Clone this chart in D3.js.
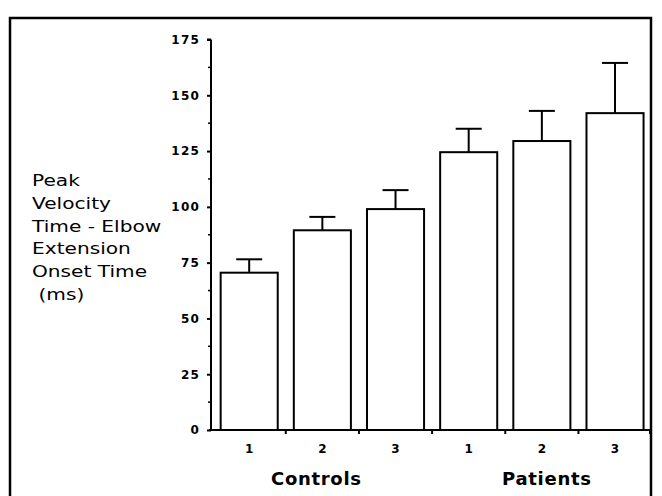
<!DOCTYPE html>
<html>
<head>
<meta charset="utf-8">
<script src="https://cdn.jsdelivr.net/npm/d3@7"></script>
<style>
  body { margin: 0; background: #fff; }
  svg { display: block; }
  text { font-family: "DejaVu Sans", sans-serif; fill: #000; }
</style>
</head>
<body>
<svg width="662" height="496"></svg>
<script>
let width = 662, height = 496;

// data
const groups = ["Controls", "Patients"];
const categories = ["C1", "C2", "C3", "P1", "P2", "P3"];
const catLabels = ["1", "2", "3", "1", "2", "3"];
const means = [70.5, 89.5, 99, 124.5, 129.5, 142];
const errTops = [76.5, 95.5, 107.5, 135, 143, 164.5];
const yTicks = [0, 25, 50, 75, 100, 125, 150, 175];
const yMinor = [12.5, 37.5, 62.5, 87.5, 112.5, 137.5, 162.5];
const titleLines = ["Peak", "Velocity", "Time - Elbow", "Extension", "Onset Time", " (ms)"];

let svg = d3.select("svg");

// frame round the figure
svg.append("rect")
    .attr("x", 10).attr("y", 18)
    .attr("width", 641).attr("height", 520)
    .attr("fill", "none")
    .attr("stroke", "#000")
    .attr("stroke-width", 2.5);

let x = d3.scaleBand()
    .domain(categories)
    .range([211, 650])
    .paddingInner(0.22)
    .paddingOuter(0.11)
    .align(0.6);

let y = d3.scaleLinear()
    .domain([0, 175])
    .range([430, 39.5]);

let bw = x.bandwidth();
let gap = x.step() - bw;

// bars
svg.append("g").selectAll("rect")
    .data(categories)
    .enter()
    .append("rect")
    .attr("x", d => x(d))
    .attr("y", (d, i) => y(means[i]))
    .attr("width", bw)
    .attr("height", (d, i) => y(0) - y(means[i]))
    .attr("fill", "#fff")
    .attr("stroke", "#000")
    .attr("stroke-width", 2);

// error bars (upper only)
let err = svg.append("g").attr("stroke", "#000").attr("stroke-width", 2);
categories.forEach((d, i) => {
    let cx = x(d) + bw / 2;
    err.append("line")
        .attr("x1", cx).attr("x2", cx)
        .attr("y1", y(means[i])).attr("y2", y(errTops[i]));
    err.append("line")
        .attr("x1", cx - 13).attr("x2", cx + 13)
        .attr("y1", y(errTops[i])).attr("y2", y(errTops[i]));
});

// y axis
let yAxis = svg.append("g")
    .attr("transform", "translate(211,0)")
    .call(d3.axisLeft(y).tickValues(yTicks).tickSize(4).tickPadding(7));
yAxis.select(".domain").attr("stroke-width", 2).attr("d", "M0," + y(175) + "H-4M0," + y(175) + "V" + y(0));
yAxis.selectAll(".tick line").attr("stroke-width", 2);
yAxis.selectAll(".tick text")
    .style("font-size", "12px")
    .style("font-weight", "bold")
    .style("letter-spacing", "1.2px")
    .style("font-family", "DejaVu Sans, sans-serif");

svg.append("g").selectAll("line")
    .data(yMinor)
    .enter()
    .append("line")
    .attr("x1", 208).attr("x2", 211)
    .attr("y1", d => y(d)).attr("y2", d => y(d))
    .attr("stroke", "#000")
    .attr("stroke-width", 1.5);

// x axis with ticks between the bars
svg.append("line")
    .attr("x1", 209).attr("x2", 651)
    .attr("y1", y(0)).attr("y2", y(0))
    .attr("stroke", "#000")
    .attr("stroke-width", 2);

let xTickPos = categories.slice(1).map(d => x(d) - gap / 2).concat([650]);
svg.append("g").selectAll("line")
    .data(xTickPos)
    .enter()
    .append("line")
    .attr("x1", d => d).attr("x2", d => d)
    .attr("y1", y(0)).attr("y2", y(0) + 4)
    .attr("stroke", "#000")
    .attr("stroke-width", 2);

svg.append("g").selectAll("text")
    .data(categories)
    .enter()
    .append("text")
    .attr("x", d => x(d) + bw / 2)
    .attr("y", 453)
    .attr("text-anchor", "middle")
    .style("font-size", "12px")
    .style("font-weight", "bold")
    .text((d, i) => catLabels[i]);

// group labels
let groupCenters = [(x("C2") + bw / 2) - 6, (x("P2") + bw / 2) + 5];
svg.append("g").selectAll("text")
    .data(groups)
    .enter()
    .append("text")
    .attr("x", (d, i) => groupCenters[i])
    .attr("y", 485)
    .attr("text-anchor", "middle")
    .style("font-size", "18px")
    .style("font-weight", "bold")
    .style("letter-spacing", "0.7px")
    .text(d => d);

// y axis title, stacked lines (wide old-style font, so stretch sideways)
svg.append("text")
    .attr("transform", "translate(32,186) scale(1.3,1)")
    .style("font-size", "15.5px")
    .selectAll("tspan")
    .data(titleLines)
    .enter()
    .append("tspan")
    .attr("x", 0)
    .attr("dy", (d, i) => i == 0 ? 0 : 22.8)
    .attr("xml:space", "preserve")
    .style("white-space", "pre")
    .text(d => d);
</script>
</body>
</html>
